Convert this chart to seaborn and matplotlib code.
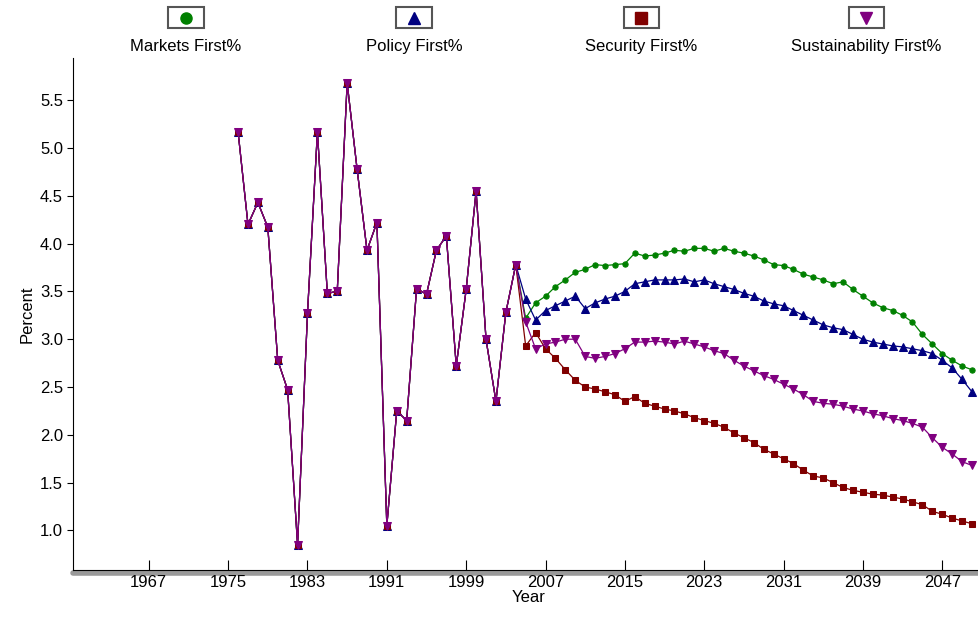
import numpy as np
import pandas as pd
import matplotlib
matplotlib.use("Agg")
import matplotlib.pyplot as plt
import seaborn as sns

hist_years = list(range(1976, 2005))
hist_vals = [5.17, 4.2, 4.43, 4.17, 2.78, 2.47, 0.85, 3.27, 5.17, 3.48, 3.5, 5.68, 4.78,
             3.93, 4.22, 1.05, 2.25, 2.15, 3.53, 3.47, 3.93, 4.08, 2.72, 3.52, 4.55, 3.0,
             2.35, 3.28, 3.78]

proj_years = list(range(2005, 2051))
markets = [3.22, 3.38, 3.45, 3.55, 3.62, 3.7, 3.73, 3.78, 3.77, 3.78, 3.79, 3.9, 3.87, 3.88,
           3.9, 3.93, 3.92, 3.95, 3.95, 3.92, 3.95, 3.92, 3.9, 3.87, 3.83, 3.78, 3.77, 3.73,
           3.68, 3.65, 3.62, 3.58, 3.6, 3.52, 3.45, 3.38, 3.33, 3.3, 3.25, 3.18, 3.05, 2.95,
           2.85, 2.78, 2.72, 2.68]
policy = [3.42, 3.2, 3.3, 3.35, 3.4, 3.45, 3.32, 3.38, 3.42, 3.45, 3.5, 3.58, 3.6, 3.62,
          3.62, 3.62, 3.63, 3.6, 3.62, 3.58, 3.55, 3.52, 3.48, 3.45, 3.4, 3.37, 3.35, 3.3,
          3.25, 3.2, 3.15, 3.12, 3.1, 3.05, 3.0, 2.97, 2.95, 2.93, 2.92, 2.9, 2.88, 2.85,
          2.78, 2.7, 2.58, 2.45]
security = [2.93, 3.07, 2.9, 2.8, 2.68, 2.57, 2.5, 2.48, 2.45, 2.42, 2.35, 2.4, 2.33, 2.3,
            2.27, 2.25, 2.22, 2.18, 2.15, 2.12, 2.08, 2.02, 1.97, 1.92, 1.85, 1.8, 1.75, 1.7,
            1.63, 1.57, 1.55, 1.5, 1.45, 1.42, 1.4, 1.38, 1.37, 1.35, 1.33, 1.3, 1.27, 1.2,
            1.17, 1.13, 1.1, 1.07]
sustain = [3.18, 2.9, 2.95, 2.97, 3.0, 3.0, 2.82, 2.8, 2.82, 2.85, 2.9, 2.97, 2.97, 2.98,
           2.97, 2.95, 2.98, 2.95, 2.92, 2.88, 2.85, 2.78, 2.72, 2.67, 2.62, 2.58, 2.53,
           2.48, 2.42, 2.35, 2.33, 2.32, 2.3, 2.27, 2.25, 2.22, 2.2, 2.17, 2.15, 2.12, 2.08,
           1.97, 1.87, 1.8, 1.72, 1.68]

names = ["Markets First%", "Policy First%", "Security First%", "Sustainability First%"]
projs = [markets, policy, security, sustain]
colors = ["#008000", "#000080", "#800000", "#800080"]
markers = ["o", "^", "s", "v"]
msizes = [3.8, 5.5, 4.2, 5.5]

rows = []
for n, p in zip(names, projs):
    yrs = hist_years + proj_years
    vals = hist_vals + p
    for y, v in zip(yrs, vals):
        rows.append({"Year": y, "Percent": v, "series": n})
df = pd.DataFrame(rows)

sns.set_style("white", {"text.color": "black", "axes.labelcolor": "black",
                        "xtick.color": "black", "ytick.color": "black"})
plt.rcParams["font.family"] = ["Liberation Sans", "DejaVu Sans"]
fig = plt.figure(figsize=(9.79, 6.24), dpi=100)
ax = fig.add_axes([0.075, 0.087, 0.93, 0.82])

for n, c, m, ms in zip(names, colors, markers, msizes):
    sns.lineplot(data=df[df.series == n], x="Year", y="Percent", color=c, marker=m,
                 markersize=ms, markeredgecolor=c, linewidth=0.9,
                 ax=ax, legend=False)

ax.set_xlim(1959.4, 2051.2)
ax.set_ylim(0.59, 5.94)
ax.set_xticks(range(1967, 2050, 8))
ax.set_yticks(np.arange(1.0, 5.6, 0.5))
ax.set_yticklabels([f"{v:.1f}" for v in np.arange(1.0, 5.6, 0.5)])
ax.tick_params(axis="x", direction="in", length=7, labelsize=12, bottom=True, colors="black")
ax.tick_params(axis="y", direction="out", length=4, labelsize=12, left=True, colors="black")
ax.set_xlabel("Year", fontsize=12, labelpad=0, color="black")
ax.set_ylabel("Percent", fontsize=12, color="black")
for s in ["top", "right"]:
    ax.spines[s].set_visible(False)
ax.spines["left"].set_color("black")
ax.spines["bottom"].set_color("black")
ax.plot([0, 1], [-0.006, -0.006], transform=ax.transAxes, color="#999999", lw=4,
        clip_on=False, zorder=0)

# legend across the top
lx = [0.19, 0.423, 0.655, 0.885]
for x, n, c, m in zip(lx, names, colors, markers):
    fig.patches.append(plt.Rectangle((x - 0.018, 0.955), 0.036, 0.033,
                                     transform=fig.transFigure, facecolor="white",
                                     edgecolor="#555555", lw=1.5))
    fig.lines.append(plt.Line2D([x], [0.971], transform=fig.transFigure, marker=m,
                                color=c, markersize=8))
    fig.text(x, 0.925, n, ha="center", va="center", fontsize=12, color="black")

fig.savefig("out.png", dpi=100)
